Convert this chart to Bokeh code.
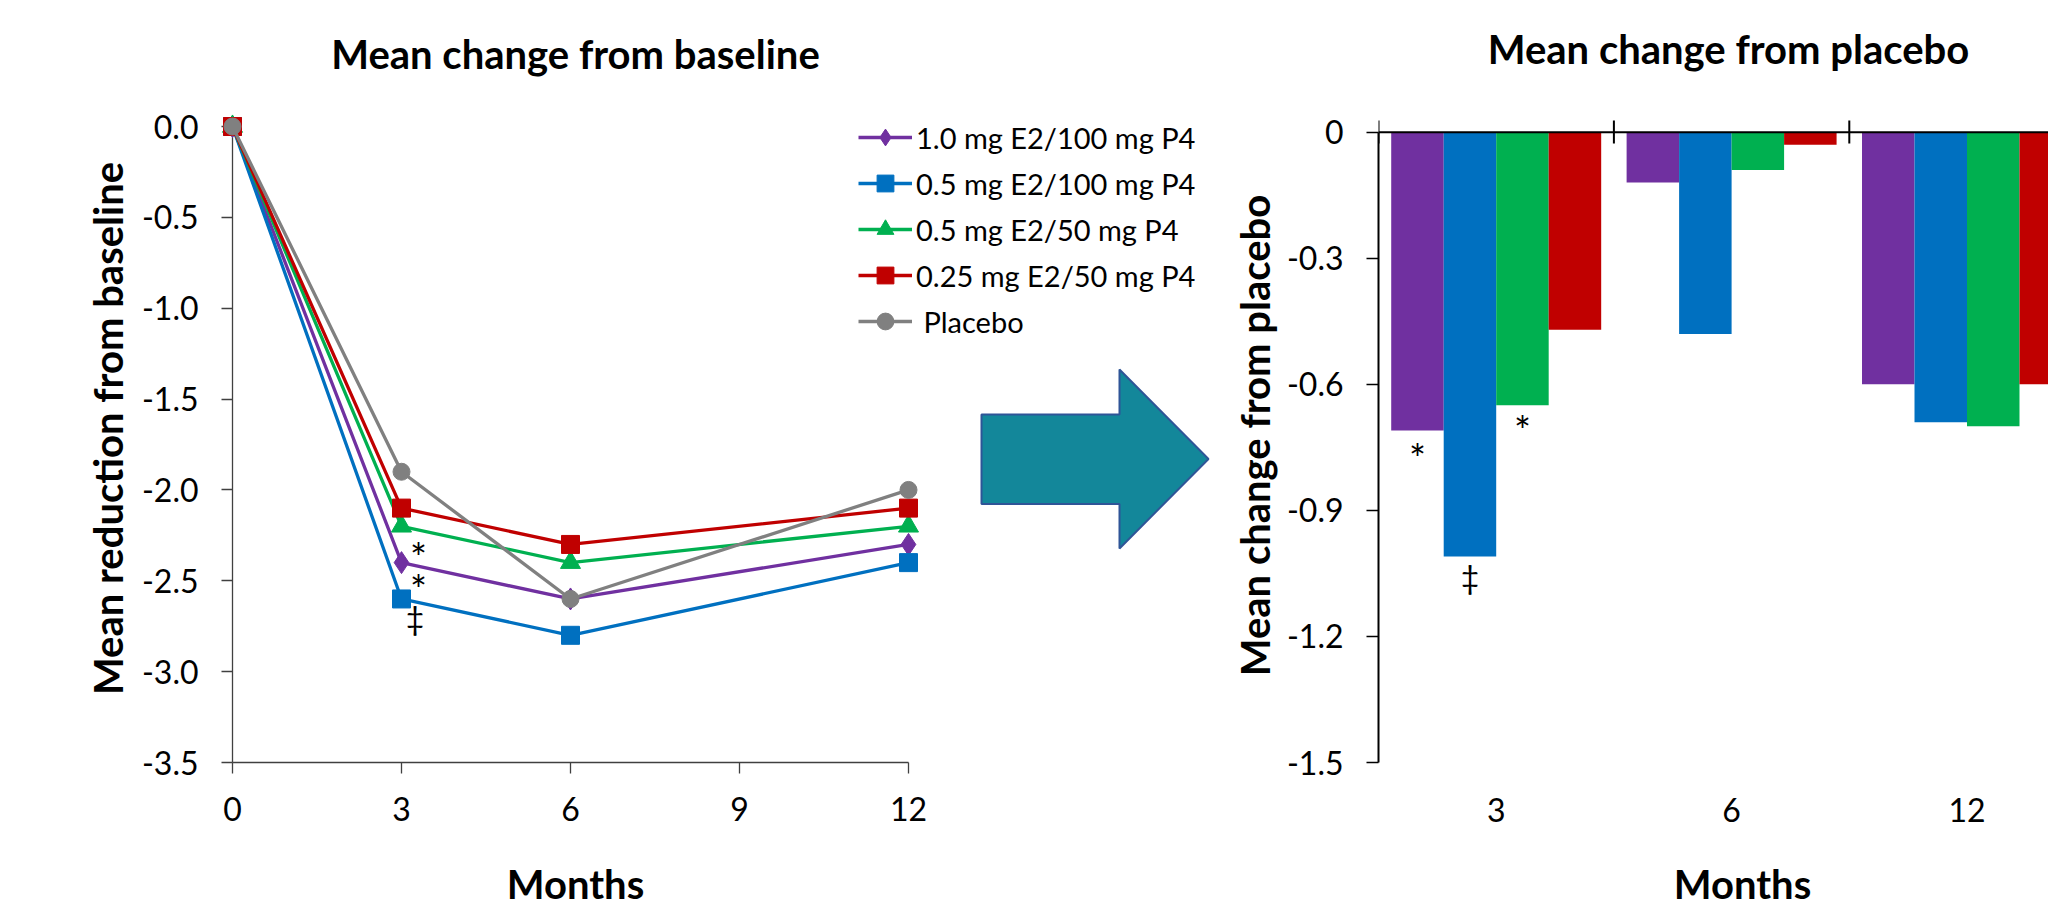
import numpy as np
from bokeh.plotting import figure
from bokeh.layouts import row
from bokeh.models import FixedTicker, CustomJSTickFormatter, Legend, LegendItem, Span
from bokeh.core.properties import value
from bokeh.embed import file_html
from bokeh.resources import INLINE

# ---------------- data: left chart (mean change from baseline) ----------------
months = [0, 3, 6, 12]
series_names = ["1.0 mg E2/100 mg P4", "0.5 mg E2/100 mg P4", "0.5 mg E2/50 mg P4",
                "0.25 mg E2/50 mg P4", " Placebo"]
e2_10_p4_100 = [0.0, -2.4, -2.6, -2.3]
e2_05_p4_100 = [0.0, -2.6, -2.8, -2.4]
e2_05_p4_50 = [0.0, -2.2, -2.4, -2.2]
e2_025_p4_50 = [0.0, -2.1, -2.3, -2.1]
placebo = [0.0, -1.9, -2.6, -2.0]
left_x_ticks = [0, 3, 6, 9, 12]
left_y_ticks = [0.0, -0.5, -1.0, -1.5, -2.0, -2.5, -3.0, -3.5]

# significance marks on the left chart
left_marks_text = ["*", "*", "\u2021"]
left_marks_x = [3.30, 3.30, 3.24]
left_marks_y = [-2.325, -2.50, -2.725]

# ---------------- data: right chart (mean change from placebo) ----------------
bar_categories = ["3", "6", "12"]
bar_e2_10_p4_100 = [-0.71, -0.12, -0.60]
bar_e2_05_p4_100 = [-1.01, -0.48, -0.69]
bar_e2_05_p4_50 = [-0.65, -0.09, -0.70]
bar_e2_025_p4_50 = [-0.47, -0.03, -0.60]
right_y_ticks = [0.0, -0.3, -0.6, -0.9, -1.2, -1.5]

# significance marks on the right chart (series index within the month-3 group)
right_marks_text = ["*", "\u2021", "*"]
right_marks_series = [0, 1, 2]
right_marks_y = [-0.757, -1.068, -0.690]

# ---------------- styles ----------------
colors = ["#7030A0", "#0070C0", "#00B050", "#C00000", "#808080"]
markers = ["diamond", "square", "triangle", "square", "circle"]
marker_sizes = [22, 18, 20, 18, 17]
FONT = "Lato"
TICK_FS = "32px"
BOLD_FS = "40px"
LEG_FS = "29px"

def mark_fs(t):
    return "40px" if t == "*" else "32px"

def mark_dy(t):
    # vertical nudge so the ink of the mark sits where the reference shows it
    return 9 if t == "*" else -4

W, H = 2048, 910
TOP, BOTTOM = 100, 762          # frame top/bottom (page px) shared by both figures
LW = 1228                       # left figure width
L_X0, L_X12 = 232, 908          # page px of month 0 and month 12
L_Y0 = 126                      # page px of value 0 on the left chart
RW = W - LW                     # right figure width
R_X05 = 1378                    # page px of the right y axis
R_CAT = 235.4                   # px per category on the right chart
R_Y0 = 131.7                    # page px of value 0 on the right chart

def lx(px):
    return (px - L_X0) * 12.0 / (L_X12 - L_X0)

def ly(py):
    return -(py - L_Y0) * 3.5 / (BOTTOM - L_Y0)

def rx(px):
    return 0.5 + (px - R_X05) / R_CAT

def ry(py):
    return -(py - R_Y0) * 1.5 / (BOTTOM - R_Y0)

# ================= LEFT CHART =================
p1 = figure(width=LW, height=H, x_range=(0, lx(LW)), y_range=(-3.5, ly(TOP)),
            output_backend="svg", toolbar_location=None,
            min_border_left=L_X0, min_border_right=0,
            min_border_top=TOP, min_border_bottom=H - BOTTOM)
p1.outline_line_color = None
p1.grid.visible = False

p1.xaxis.ticker = FixedTicker(ticks=left_x_ticks)
p1.yaxis.ticker = FixedTicker(ticks=left_y_ticks)
p1.yaxis.formatter = CustomJSTickFormatter(code="return tick.toFixed(1);")
p1.xaxis.bounds = (0, 12)
p1.yaxis.bounds = (-3.5, 0)
for ax in (p1.xaxis[0], p1.yaxis[0]):
    ax.axis_line_color = "#404040"
    ax.axis_line_width = 1.3
    ax.major_tick_line_color = "#404040"
    ax.major_tick_line_width = 1.3
    ax.major_tick_out = 11
    ax.major_tick_in = 0
    ax.minor_tick_line_color = None
    ax.major_label_text_font = FONT
    ax.major_label_text_font_size = TICK_FS
    ax.major_label_text_color = "black"
p1.xaxis.major_label_standoff = 23
p1.yaxis.major_label_standoff = 23

left_series = [e2_10_p4_100, e2_05_p4_100, e2_05_p4_50, e2_025_p4_50, placebo]
items = []
for name, ys, c, m, s in zip(series_names, left_series, colors, markers, marker_sizes):
    lr = p1.line(months, ys, line_color=c, line_width=3.3, level="overlay")
    sr = p1.scatter(months, ys, marker=m, size=s, fill_color=c, line_color=c,
                    level="overlay")
    items.append(LegendItem(label=name, renderers=[lr, sr]))

legend = Legend(items=items, location=(858 - L_X0, BOTTOM - 342), orientation="vertical",
                glyph_width=54, glyph_height=42, label_height=42, label_standoff=4,
                spacing=4, padding=0, margin=0, border_line_color=None,
                background_fill_alpha=0, label_text_font=FONT,
                label_text_font_size=LEG_FS, label_text_color="black")
p1.add_layout(legend)

p1.text(x=left_marks_x, y=left_marks_y, text=left_marks_text,
        y_offset=[mark_dy(t) for t in left_marks_text],
        text_font_size=[mark_fs(t) for t in left_marks_text],
        text_font=value(FONT), text_color="black",
        text_align="center", text_baseline="middle", level="overlay")

# block arrow between the two charts (page px)
arrow_px = [(981, 414), (1119, 414), (1119, 369), (1208, 458.5),
            (1119, 548), (1119, 503.5), (981, 503.5)]
p1.patch([lx(a[0]) for a in arrow_px], [ly(a[1]) for a in arrow_px],
         fill_color="#13879A", line_color="#2F5597", line_width=2, level="overlay")

# titles / axis titles of the left chart (anchored at the middle of the capitals)
p1.text(x=[lx(575), lx(575)], y=[ly(53), ly(883)],
        text=["Mean change from baseline", "Months"],
        text_font=value(FONT), text_font_style="bold", text_font_size=BOLD_FS,
        text_color="black", text_align="center", text_baseline="middle",
        level="overlay")
p1.text(x=[lx(107)], y=[ly(428)], text=["Mean reduction from baseline"], angle=np.pi / 2,
        text_font=value(FONT), text_font_style="bold", text_font_size=BOLD_FS,
        text_color="black", text_align="center", text_baseline="middle",
        level="overlay")

# ================= RIGHT CHART =================
p2 = figure(width=RW, height=H, x_range=(0.5, rx(W)), y_range=(-1.5, ry(TOP)),
            output_backend="svg", toolbar_location=None,
            min_border_left=R_X05 - LW, min_border_right=0,
            min_border_top=TOP, min_border_bottom=H - BOTTOM)
p2.outline_line_color = None
p2.grid.visible = False

cat_pos = np.arange(1, len(bar_categories) + 1)
bar_series = [bar_e2_10_p4_100, bar_e2_05_p4_100, bar_e2_05_p4_50, bar_e2_025_p4_50]
bar_w = 0.223
offsets = (np.arange(len(bar_series)) - 1.5) * bar_w
for vals, c, off in zip(bar_series, colors, offsets):
    p2.vbar(x=cat_pos + off, top=0, bottom=vals, width=bar_w,
            fill_color=c, line_color=None)

p2.xaxis.ticker = FixedTicker(ticks=[int(v) for v in cat_pos])
p2.xaxis.formatter = CustomJSTickFormatter(args=dict(labels=bar_categories),
                                           code="return labels[Math.round(tick) - 1];")
p2.xaxis.axis_line_color = None
p2.xaxis.major_tick_line_color = None
p2.xaxis.major_tick_out = 0
p2.xaxis.major_tick_in = 0
p2.xaxis.minor_tick_line_color = None
p2.xaxis.major_label_standoff = 35

p2.yaxis.ticker = FixedTicker(ticks=right_y_ticks)
p2.yaxis.formatter = CustomJSTickFormatter(
    code="return Math.abs(tick) < 1e-9 ? '0' : tick.toFixed(1);")
p2.yaxis.bounds = (-1.5, 0)
p2.yaxis.axis_line_color = "black"
p2.yaxis.axis_line_width = 2
p2.yaxis.major_tick_line_color = "black"
p2.yaxis.major_tick_line_width = 1.5
p2.yaxis.major_tick_out = 12
p2.yaxis.major_tick_in = 0
p2.yaxis.minor_tick_line_color = None
p2.yaxis.major_label_standoff = 23
for ax in (p2.xaxis[0], p2.yaxis[0]):
    ax.major_label_text_font = FONT
    ax.major_label_text_font_size = TICK_FS
    ax.major_label_text_color = "black"

p2.add_layout(Span(location=0, dimension="width", line_color="black", line_width=2))
cross_x = [0.5] + list(cat_pos[:-1] + 0.5)
p2.segment(x0=cross_x, y0=[ry(120)] * len(cross_x), x1=cross_x,
           y1=[ry(143)] * len(cross_x), line_color="black", line_width=2)

mark_x = [cat_pos[0] + offsets[i] for i in right_marks_series]
p2.text(x=mark_x, y=right_marks_y, text=right_marks_text,
        y_offset=[mark_dy(t) for t in right_marks_text],
        text_font_size=[mark_fs(t) for t in right_marks_text],
        text_font=value(FONT), text_color="black",
        text_align="center", text_baseline="middle", level="overlay")

p2.text(x=[rx(1728), rx(1742)], y=[ry(48.5), ry(883)],
        text=["Mean change from placebo", "Months"],
        text_font=value(FONT), text_font_style="bold", text_font_size=BOLD_FS,
        text_color="black", text_align="center", text_baseline="middle",
        level="overlay")
p2.text(x=[rx(1254)], y=[ry(435)], text=["Mean change from placebo"], angle=np.pi / 2,
        text_font=value(FONT), text_font_style="bold", text_font_size=BOLD_FS,
        text_color="black", text_align="center", text_baseline="middle",
        level="overlay")

layout = row(p1, p2)
open("out.html", "w").write(file_html(layout, INLINE))
